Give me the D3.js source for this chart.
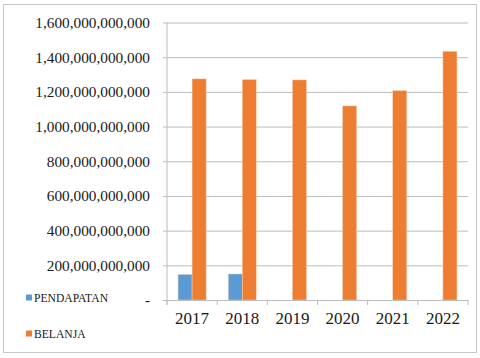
<!DOCTYPE html>
<html>
<head>
<meta charset="utf-8">
<script src="https://cdnjs.cloudflare.com/ajax/libs/d3/7.8.5/d3.min.js"></script>
<style>
  body { margin: 0; background: #fff; }
  svg { display: block; }
</style>
</head>
<body>
<script>
// data
var years = ["2017", "2018", "2019", "2020", "2021", "2022"];
var series = ["PENDAPATAN", "BELANJA"];
var pendapatan = [148000000000, 150000000000, 0, 0, 0, 0];
var belanja = [1275000000000, 1271000000000, 1269000000000, 1119000000000, 1207000000000, 1434000000000];
var yTicks = [0, 200000000000, 400000000000, 600000000000, 800000000000, 1000000000000, 1200000000000, 1400000000000, 1600000000000];
var colors = ["#5b9bd5", "#ed7d31"];

var W = 480, H = 358;
var plotLeft = 167, plotRight = 468, plotTop = 22.5, plotBottom = 300;
var serif = "Liberation Serif, DejaVu Serif, serif";

var svg = d3.select("body").append("svg")
  .attr("width", W)
  .attr("height", H);

// outer frame
svg.append("rect")
  .attr("x", 3.5).attr("y", 4.5)
  .attr("width", 473).attr("height", 348)
  .attr("fill", "#fff")
  .attr("stroke", "#c9c9c9");

var x0 = d3.scaleBand().domain(years).range([plotLeft, plotRight]);
var x1 = d3.scaleBand().domain(series)
  .range([x0.bandwidth() * 0.22, x0.bandwidth() * 0.78]);
var y = d3.scaleLinear().domain([0, 1600000000000]).range([plotBottom, plotTop]);

// gridlines + y labels
var yAxis = svg.append("g")
  .attr("transform", "translate(" + plotLeft + ",0)")
  .call(d3.axisLeft(y).tickValues(yTicks).tickSize(4).tickPadding(13)
    .tickFormat(function(d) { return d === 0 ? "-" : d3.format(",.0f")(d); }));
yAxis.select(".domain").remove();
yAxis.selectAll(".tick line").attr("stroke", "#bcbcbc");
yAxis.selectAll(".tick")
  .append("line")
  .attr("x1", 0).attr("x2", plotRight - plotLeft)
  .attr("stroke", "#bcbcbc");
yAxis.selectAll("text")
  .style("font-family", serif)
  .style("font-size", "15.3px")
  .attr("fill", "#1a1a1a");

// y axis line
svg.append("line")
  .attr("x1", plotLeft).attr("x2", plotLeft)
  .attr("y1", plotTop).attr("y2", plotBottom + 4.5)
  .attr("stroke", "#bcbcbc");

// bars
var rows = years.map(function(yr, i) {
  return { year: yr, vals: [pendapatan[i], belanja[i]] };
});
var groups = svg.append("g").selectAll("g")
  .data(rows).enter().append("g")
  .attr("transform", function(d) { return "translate(" + x0(d.year) + ",0)"; });
groups.selectAll("rect")
  .data(function(d) {
    return d.vals.map(function(v, j) { return { s: series[j], v: v, c: colors[j] }; })
      .filter(function(e) { return e.v > 0; });
  })
  .enter().append("rect")
  .attr("x", function(d) { return x1(d.s); })
  .attr("width", x1.bandwidth())
  .attr("y", function(d) { return y(d.v); })
  .attr("height", function(d) { return plotBottom - y(d.v); })
  .attr("fill", function(d) { return d.c; })
  .attr("stroke", "#fbd2b8")
  .attr("stroke-width", 0.5);

// x axis
var xAxis = svg.append("g")
  .attr("transform", "translate(0," + plotBottom + ")")
  .call(d3.axisBottom(x0).tickSize(0).tickPadding(12));
xAxis.select(".domain").attr("stroke", "#bcbcbc");
xAxis.selectAll("text")
  .style("font-family", serif)
  .style("font-size", "17px")
  .attr("fill", "#1a1a1a");
// category separator ticks
var bounds = years.map(function(yr) { return x0(yr); }).concat([plotRight]);
svg.append("g").selectAll("line")
  .data(bounds).enter().append("line")
  .attr("x1", function(d) { return d; }).attr("x2", function(d) { return d; })
  .attr("y1", plotBottom).attr("y2", plotBottom + 5)
  .attr("stroke", "#bcbcbc");

// legend
var leg = svg.append("g").selectAll("g")
  .data(series).enter().append("g")
  .attr("transform", function(d, i) { return "translate(26," + (294.5 + i * 36) + ")"; });
leg.append("rect")
  .attr("width", 6).attr("height", 6)
  .attr("fill", function(d, i) { return colors[i]; });
leg.append("text")
  .attr("x", 8).attr("y", 7)
  .style("font-family", serif)
  .style("font-size", "11.6px")
  .attr("fill", "#1a1a1a")
  .text(function(d) { return d; });
</script>
</body>
</html>
